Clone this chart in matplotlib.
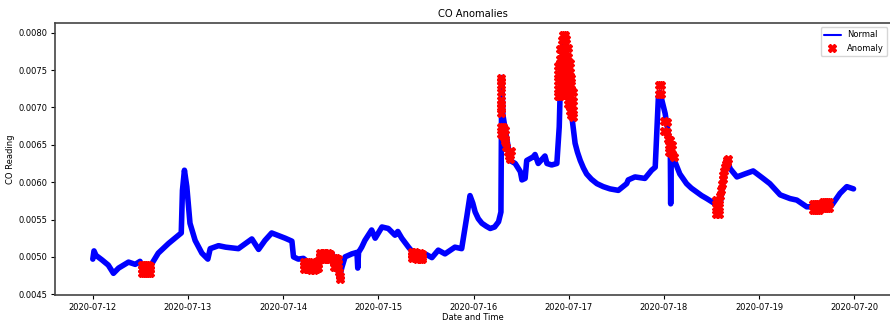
import numpy as np
import pandas as pd
import matplotlib
matplotlib.use("Agg")
import matplotlib.pyplot as plt
import matplotlib.dates as mdates
from matplotlib.ticker import MultipleLocator, FormatStrFormatter

start = pd.Timestamp("2020-07-12 00:00")

# CO readings: hours since start, value in units of 1e-3
normal_hours = [
    0.0, 0.3, 0.8, 2.3, 3.9, 5.2, 6.5, 9.0, 10.7, 11.9, 12.6, 13.5, 14.4, 14.9,
    16.5, 19.1, 21.6, 22.3, 22.6, 23.1, 23.7, 24.5, 25.8, 27.5, 29.0, 29.6,
    31.7, 33.5, 36.7, 40.1, 41.8, 43.4, 45.1, 48.5, 50.2, 50.6, 51.8, 53.1,
    55.0, 57.0, 58.5, 60.3, 61.5, 62.2, 62.8, 63.6, 65.3, 66.6, 66.8, 67.0,
    67.8, 68.6, 70.3, 71.2, 72.9, 74.5, 76.2, 76.9, 77.9, 79.6, 81.0, 83.0,
    83.8, 85.5, 87.1, 88.8, 91.3, 93.0, 94.3, 95.1, 95.8, 96.4, 97.2, 98.1,
    99.2, 100.2, 101.3, 102.3, 102.9, 103.1, 103.4, 104.0, 104.8, 105.2,
    106.5, 107.8, 108.2, 109.0, 109.4, 111.1, 111.5, 112.3, 114.0, 114.5,
    115.7, 117.0, 117.6, 117.8, 118.3, 118.7, 119.3, 120.2, 120.8, 121.6,
    122.2, 122.9, 123.7, 124.5, 125.7, 127.1, 128.7, 130.4, 132.5, 134.6,
    135.0, 136.7, 139.2, 140.9, 141.8, 142.6, 143.0, 144.3, 145.6, 145.7,
    145.8, 146.8, 148.0, 149.7, 150.9, 152.2, 153.5, 154.8, 156.9, 157.8,
    158.3, 159.0, 160.0, 160.7, 162.4, 164.4, 166.5, 169.0, 170.7, 173.3,
    175.8, 177.5, 180.0, 182.0, 183.4, 185.0, 186.3, 188.4, 190.1, 191.8,
]
normal_values = [
    4.97, 5.08, 5.02, 4.96, 4.89, 4.78, 4.85, 4.93, 4.90, 4.94, 4.84, 4.82, 4.85, 4.91,
    5.05, 5.18, 5.29, 5.32, 5.89, 6.16, 5.94, 5.45, 5.22, 5.05, 4.97, 5.11,
    5.15, 5.13, 5.11, 5.24, 5.10, 5.22, 5.32, 5.25, 5.21, 5.00, 4.97, 4.98,
    4.90, 4.95, 5.02, 5.04, 4.93, 4.72, 4.86, 5.00, 5.04, 5.06, 4.85, 5.06,
    5.13, 5.22, 5.36, 5.25, 5.40, 5.38, 5.29, 5.34, 5.25, 5.13, 5.04, 5.01,
    5.04, 4.99, 5.09, 5.04, 5.13, 5.11, 5.54, 5.82, 5.72, 5.60, 5.51, 5.45,
    5.41, 5.38, 5.40, 5.47, 5.60, 7.40, 6.90, 6.70, 6.45, 6.29,
    6.25, 6.14, 6.03, 6.05, 6.29, 6.34, 6.37, 6.25, 6.35, 6.25,
    6.23, 6.25, 6.74, 7.14, 7.60, 7.95, 7.70, 7.10, 6.87, 6.52,
    6.40, 6.29, 6.19, 6.11, 6.04, 5.98, 5.94, 5.91, 5.89, 5.98,
    6.03, 6.07, 6.05, 6.16, 6.20, 7.14, 7.20, 6.92, 6.48, 5.71,
    6.45, 6.27, 6.11, 5.98, 5.92, 5.87, 5.82, 5.78, 5.71, 5.64,
    5.75, 6.05, 6.28, 6.18, 6.07, 6.11, 6.15, 6.05, 5.98, 5.83,
    5.78, 5.76, 5.67, 5.67, 5.72, 5.68, 5.69, 5.85, 5.94, 5.91,
]

# flagged anomalies: hours since start, value in units of 1e-3
anomaly_hours = [
    12.4, 12.4, 12.4, 12.9, 12.9, 12.9, 13.4, 13.4, 13.4, 13.9, 13.9, 13.9, 14.3, 14.3, 14.3,
    53.3, 53.3, 53.3, 53.9, 53.9, 53.9, 54.5, 54.5, 54.5, 55.1, 55.1, 55.1,
    55.7, 55.7, 55.7, 56.3, 56.3, 56.3, 56.9, 56.9, 56.9,
    57.4, 57.4, 57.4, 58.0, 58.0, 58.0, 58.6, 58.6, 58.6, 59.2, 59.2, 59.2, 59.7, 59.7, 59.7,
    60.8, 60.8, 60.8, 61.3, 61.3, 61.3, 61.8, 61.8, 61.8, 62.0, 62.2, 62.3,
    80.6, 80.6, 80.6, 81.2, 81.2, 81.2, 81.8, 81.8, 81.8, 82.4, 82.4, 82.4, 83.0, 83.0, 83.0,
    102.9, 102.9, 102.9, 102.9, 102.9, 102.9, 103.0, 103.0,
    102.8, 102.8, 103.3, 103.3, 103.8, 103.8,
    104.0, 104.3, 104.6, 104.9, 105.3, 105.5,
    117.4, 117.4, 117.4, 117.4, 117.4,
    117.8, 117.8, 117.8, 117.8, 117.8, 117.8, 117.8,
    118.2, 118.2, 118.2, 118.2, 118.2, 118.2, 118.2, 118.2,
    118.6, 118.6, 118.6, 118.6, 118.6, 118.6, 118.6, 118.6, 118.6,
    119.0, 119.0, 119.0, 119.0, 119.0, 119.0, 119.0, 119.0, 119.0,
    119.4, 119.4, 119.4, 119.4, 119.4, 119.4, 119.4, 119.4,
    119.8, 119.8, 119.8, 119.8, 119.8, 119.8, 119.8, 119.8,
    120.2, 120.2, 120.2, 120.2, 120.2, 120.2, 120.2,
    120.6, 120.6, 120.6, 120.6, 120.6, 120.6,
    121.0, 121.0, 121.0, 121.0,
    142.7, 142.7, 143.3, 143.3,
    144.0, 144.0, 144.8, 144.8,
    145.0, 145.3, 145.7, 146.1, 146.5, 145.3, 146.0, 145.6,
    157.2, 157.2, 157.2, 157.8, 157.8, 157.8,
    158.2, 158.4, 158.6, 158.8, 159.0, 159.2, 159.4, 159.6, 159.8, 160.0, 160.2,
    181.5, 181.5, 182.1, 182.1, 182.7, 182.7, 183.2, 183.2,
    184.1, 184.1, 184.7, 184.7, 185.2, 185.2, 185.7, 185.7,
]
anomaly_values = [
    4.78, 4.84, 4.89, 4.78, 4.84, 4.89, 4.78, 4.84, 4.89, 4.78, 4.84, 4.89, 4.79, 4.84, 4.88,
    4.84, 4.89, 4.93, 4.84, 4.89, 4.93, 4.84, 4.89, 4.93, 4.83, 4.88, 4.92,
    4.83, 4.88, 4.92, 4.84, 4.89, 4.93, 4.85, 4.90, 4.94,
    4.97, 5.01, 5.05, 4.97, 5.01, 5.05, 4.97, 5.01, 5.05, 4.97, 5.01, 5.05, 4.97, 5.01, 5.04,
    4.87, 4.93, 4.99, 4.87, 4.93, 4.99, 4.85, 4.91, 4.97, 4.80, 4.75, 4.70,
    4.98, 5.02, 5.06, 4.98, 5.02, 5.06, 4.97, 5.01, 5.05, 4.97, 5.01, 5.05, 4.97, 5.00, 5.04,
    7.40, 7.30, 7.20, 7.10, 7.00, 6.92, 7.35, 7.05,
    6.74, 6.64, 6.74, 6.62, 6.70, 6.58,
    6.55, 6.47, 6.41, 6.35, 6.31, 6.42,
    7.15, 7.25, 7.35, 7.45, 7.55,
    7.15, 7.25, 7.35, 7.45, 7.55, 7.65, 7.78,
    7.16, 7.26, 7.36, 7.46, 7.56, 7.66, 7.78, 7.90,
    7.20, 7.30, 7.40, 7.50, 7.60, 7.70, 7.80, 7.90, 7.97,
    7.20, 7.30, 7.40, 7.50, 7.60, 7.70, 7.80, 7.90, 7.97,
    7.18, 7.28, 7.38, 7.48, 7.58, 7.68, 7.80, 7.92,
    7.05, 7.15, 7.25, 7.35, 7.45, 7.55, 7.67, 7.80,
    6.95, 7.05, 7.15, 7.25, 7.35, 7.47, 7.60,
    6.90, 7.00, 7.10, 7.20, 7.30, 7.40,
    6.87, 6.97, 7.08, 7.20,
    7.30, 7.18, 7.30, 7.18,
    6.82, 6.68, 6.80, 6.67,
    6.58, 6.50, 6.45, 6.38, 6.33, 6.40, 6.50, 6.56,
    5.58, 5.67, 5.76, 5.58, 5.67, 5.76,
    5.82, 5.90, 5.97, 6.04, 6.10, 6.15, 6.20, 6.24, 6.27, 6.30, 6.31,
    5.71, 5.63, 5.71, 5.63, 5.71, 5.63, 5.71, 5.63,
    5.73, 5.65, 5.73, 5.65, 5.73, 5.65, 5.73, 5.65,
]

normal_t = start + pd.to_timedelta(normal_hours, unit="h")
anomaly_t = start + pd.to_timedelta(anomaly_hours, unit="h")
normal_y = np.array(normal_values) * 1e-3
anomaly_y = np.array(anomaly_values) * 1e-3

fig = plt.figure(figsize=(8.9, 3.22), dpi=100)
ax = fig.add_axes([0.0615, 0.0839, 0.9403, 0.8447])

ax.plot(normal_t, normal_y, color="blue", linewidth=4.0, label="Normal",
        solid_joinstyle="round", solid_capstyle="round")
ax.plot(anomaly_t, anomaly_y, linestyle="none", marker="X", color="red",
        markersize=5.5, label="Anomaly")

ax.set_xlim(start - pd.Timedelta(hours=9.6), start + pd.Timedelta(hours=201.4))
ax.set_ylim(0.00449, 0.00813)
ax.xaxis.set_major_locator(mdates.DayLocator())
ax.xaxis.set_major_formatter(mdates.DateFormatter("%Y-%m-%d"))
ax.yaxis.set_major_locator(MultipleLocator(0.0005))
ax.yaxis.set_major_formatter(FormatStrFormatter("%.4f"))
ax.tick_params(labelsize=6, length=3, pad=2.5)
for s in ax.spines.values():
    s.set_color("#444444")
    s.set_linewidth(1.2)

ax.set_title("CO Anomalies", fontsize=7.2, pad=4)
ax.set_xlabel("Date and Time", fontsize=6, labelpad=1)
ax.set_ylabel("CO Reading", fontsize=6, labelpad=2)

leg = ax.legend(loc="upper right", fontsize=6)
leg.legend_handles[0].set_linewidth(1.5)

fig.savefig("out.png", dpi=100)
